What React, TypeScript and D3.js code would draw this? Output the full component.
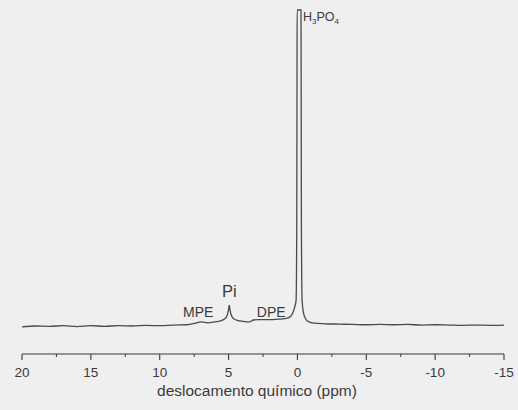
import * as d3 from 'd3';
import { useEffect, useRef } from 'react';

// 31P NMR spectrum
const ppm = [20, 19, 18, 17, 16, 15, 14, 13, 12, 11, 10, 9, 8, 7.5, 7, 6.5, 6, 5.6, 5.3, 5.1, 5.0, 4.95, 4.9, 4.8, 4.6, 4.3, 4, 3.5, 3.2, 2.8, 2.3, 1.8, 1.2, 0.8, 0.5, 0.35, 0.2, 0.1, 0.05, 0.03, 0.02, -0.26, -0.27, -0.29, -0.34, -0.45, -0.6, -0.8, -1.2, -2, -3, -4, -5, -6, -7, -8, -9, -10, -11, -12, -13, -14, -15];
const intensity = [-0.3, 0.0, -0.1, 0.1, -0.2, 0.1, -0.1, 0.1, 0.0, 0.2, 0.1, 0.3, 0.4, 0.8, 1.3, 1.0, 1.3, 1.6, 2.2, 3.4, 5.2, 6.6, 5.2, 3.4, 2.2, 1.7, 1.5, 1.3, 1.9, 2.0, 2.0, 2.0, 2.2, 2.4, 3.0, 4.0, 6.0, 8.0, 30, 80, 100, 100, 80, 30, 8.0, 4.0, 2.2, 1.4, 0.9, 0.7, 0.6, 0.5, 0.4, 0.5, 0.4, 0.5, 0.3, 0.4, 0.3, 0.2, 0.3, 0.2, 0.3];

const xTicks = [20, 15, 10, 5, 0, -5, -10, -15];
const minorTicks = [17.5, 12.5, 7.5, 2.5, -2.5, -7.5, -12.5];

const peakLabels = [
  { text: 'MPE', ppm: 7.2, lift: 9, size: 14 },
  { text: 'Pi', ppm: 4.95, lift: 29, size: 16.5 },
  { text: 'DPE', ppm: 1.9, lift: 9, size: 14 },
];

function App() {
  const svgRef = useRef<SVGSVGElement>(null);

  useEffect(() => {
    const svg = d3.select(svgRef.current);
    svg.selectAll('*').remove();

    const width = 518, height = 410;
    const font = "'Liberation Sans', Arial, sans-serif";
    const ink = '#3a3a3a';

    svg.append('rect').attr('width', width).attr('height', height).attr('fill', '#efefef');

    const x = d3.scaleLinear().domain([20, -15]).range([22, 504]);
    const y = d3.scaleLinear().domain([0, 100]).range([326, 10]);

    const data = ppm.map((p, i) => ({ p, v: intensity[i] }));

    const line = d3.line<{ p: number; v: number }>()
      .x(d => x(d.p))
      .y(d => y(d.v))
      .curve(d3.curveMonotoneX);

    svg.append('path')
      .datum(data)
      .attr('fill', 'none')
      .attr('stroke', '#4a4a4a')
      .attr('stroke-width', 1.3)
      .attr('d', line);

    // axis
    const axisY = 354;
    const axis = svg.append('g').attr('transform', `translate(0,${axisY})`);
    axis.append('line')
      .attr('x1', x(20)).attr('x2', x(-15))
      .attr('stroke', ink).attr('stroke-width', 1.2);
    axis.selectAll('.major').data(xTicks).join('line')
      .attr('x1', d => x(d)).attr('x2', d => x(d))
      .attr('y1', 0).attr('y2', 6)
      .attr('stroke', ink).attr('stroke-width', 1.1);
    axis.selectAll('.minor').data(minorTicks).join('line')
      .attr('x1', d => x(d)).attr('x2', d => x(d))
      .attr('y1', 0).attr('y2', 3)
      .attr('stroke', ink).attr('stroke-width', 1);
    axis.selectAll('text').data(xTicks).join('text')
      .attr('x', d => x(d))
      .attr('y', 23)
      .attr('text-anchor', 'middle')
      .attr('font-family', font)
      .attr('font-size', 13.5)
      .attr('fill', ink)
      .text(d => d);

    svg.append('text')
      .attr('x', (x(20) + x(-15)) / 2 - 6)
      .attr('y', 396)
      .attr('text-anchor', 'middle')
      .attr('font-family', font)
      .attr('font-size', 15.5)
      .attr('fill', ink)
      .text('deslocamento químico (ppm)');

    // peak labels
    peakLabels.forEach(l => {
      svg.append('text')
        .attr('x', x(l.ppm))
        .attr('y', 326 - l.lift)
        .attr('text-anchor', 'middle')
        .attr('font-family', font)
        .attr('font-size', l.size)
        .attr('fill', ink)
        .text(l.text);
    });

    const h = svg.append('text')
      .attr('x', 303)
      .attr('y', 21)
      .attr('font-family', font)
      .attr('font-size', 12.5)
      .attr('fill', ink);
    h.append('tspan').text('H');
    h.append('tspan').attr('font-size', 8).attr('dy', 3).text('3');
    h.append('tspan').attr('dy', -3).text('PO');
    h.append('tspan').attr('font-size', 8).attr('dy', 3).text('4');
  }, []);

  return (
    <svg ref={svgRef} width={518} height={410}
      style={{ position: 'absolute', left: 0, top: 0, display: 'block' }} />
  );
}

export default App;
